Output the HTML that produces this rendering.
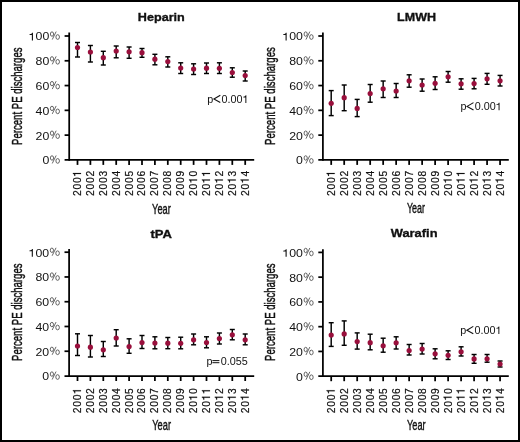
<!DOCTYPE html>
<html><head><meta charset="utf-8"><style>
html,body{margin:0;padding:0;background:#fff;}
#f{position:relative;width:520px;height:442px;box-sizing:border-box;border:2px solid #000;background:#fff;overflow:hidden;}
svg{position:absolute;left:-2px;top:-2px;will-change:transform;}
text{font-family:"Liberation Sans", sans-serif;fill:#111;}
</style></head><body><div id="f">
<svg width="520" height="442" viewBox="0 0 520 442">
<defs><path id="pct" fill="none" stroke="#333" d="M352 -593A130 203 0 1 1 92 -593A130 203 0 1 1 352 -593ZM830 -319A145 216 0 1 1 540 -319A145 216 0 1 1 830 -319ZM560 -822L245 -86"/><path id="one" fill="#111" d="M345 0L345 -709L275 -709C263 -630 215 -580 65 -572L65 -508L255 -508L255 0Z"/></defs>
<line x1="69.2" y1="32.5" x2="69.2" y2="160.78" stroke="#000" stroke-width="1.75"/>
<line x1="64.60" y1="159.9" x2="254.2" y2="159.9" stroke="#000" stroke-width="1.75"/>
<g transform="translate(42.41,164.37) scale(1.14,1)"><text x="0.00" y="0" font-size="10.8">0</text><use href="#pct" stroke-width="64.8" transform="translate(6.00,0) scale(0.01080)"/></g>
<line x1="64.60" y1="135.12" x2="69.2" y2="135.12" stroke="#000" stroke-width="1.75"/>
<g transform="translate(35.56,139.59) scale(1.14,1)"><text x="0.00 6.00" y="0" font-size="10.8">20</text><use href="#pct" stroke-width="64.8" transform="translate(12.01,0) scale(0.01080)"/></g>
<line x1="64.60" y1="110.34" x2="69.2" y2="110.34" stroke="#000" stroke-width="1.75"/>
<g transform="translate(35.56,114.81) scale(1.14,1)"><text x="0.00 6.00" y="0" font-size="10.8">40</text><use href="#pct" stroke-width="64.8" transform="translate(12.01,0) scale(0.01080)"/></g>
<line x1="64.60" y1="85.56" x2="69.2" y2="85.56" stroke="#000" stroke-width="1.75"/>
<g transform="translate(35.56,90.03) scale(1.14,1)"><text x="0.00 6.00" y="0" font-size="10.8">60</text><use href="#pct" stroke-width="64.8" transform="translate(12.01,0) scale(0.01080)"/></g>
<line x1="64.60" y1="60.78" x2="69.2" y2="60.78" stroke="#000" stroke-width="1.75"/>
<g transform="translate(35.56,65.25) scale(1.14,1)"><text x="0.00 6.00" y="0" font-size="10.8">80</text><use href="#pct" stroke-width="64.8" transform="translate(12.01,0) scale(0.01080)"/></g>
<line x1="64.60" y1="36.00" x2="69.2" y2="36.00" stroke="#000" stroke-width="1.75"/>
<g transform="translate(28.72,40.47) scale(1.14,1)"><text x="6.00 12.01" y="0" font-size="10.8">00</text><use href="#one" transform="translate(0.00,0) scale(0.01080)"/><use href="#pct" stroke-width="64.8" transform="translate(18.01,0) scale(0.01080)"/></g>
<line x1="77.50" y1="159.9" x2="77.50" y2="164.90" stroke="#000" stroke-width="1.75"/>
<g transform="translate(80.98,196.00) rotate(-90) scale(0.9,1)"><text x="0.00 7.19 14.38" y="0" font-size="11.4" stroke="#111" stroke-width="0.2">200</text><use href="#one" stroke="#111" stroke-width="17.5" transform="translate(21.57,0) scale(0.01140)"/></g>
<line x1="90.40" y1="159.9" x2="90.40" y2="164.90" stroke="#000" stroke-width="1.75"/>
<g transform="translate(93.88,196.00) rotate(-90) scale(0.9,1)"><text x="0.00 7.19 14.38 21.57" y="0" font-size="11.4" stroke="#111" stroke-width="0.2">2002</text></g>
<line x1="103.30" y1="159.9" x2="103.30" y2="164.90" stroke="#000" stroke-width="1.75"/>
<g transform="translate(106.78,196.00) rotate(-90) scale(0.9,1)"><text x="0.00 7.19 14.38 21.57" y="0" font-size="11.4" stroke="#111" stroke-width="0.2">2003</text></g>
<line x1="116.20" y1="159.9" x2="116.20" y2="164.90" stroke="#000" stroke-width="1.75"/>
<g transform="translate(119.68,196.00) rotate(-90) scale(0.9,1)"><text x="0.00 7.19 14.38 21.57" y="0" font-size="11.4" stroke="#111" stroke-width="0.2">2004</text></g>
<line x1="129.10" y1="159.9" x2="129.10" y2="164.90" stroke="#000" stroke-width="1.75"/>
<g transform="translate(132.58,196.00) rotate(-90) scale(0.9,1)"><text x="0.00 7.19 14.38 21.57" y="0" font-size="11.4" stroke="#111" stroke-width="0.2">2005</text></g>
<line x1="142.00" y1="159.9" x2="142.00" y2="164.90" stroke="#000" stroke-width="1.75"/>
<g transform="translate(145.48,196.00) rotate(-90) scale(0.9,1)"><text x="0.00 7.19 14.38 21.57" y="0" font-size="11.4" stroke="#111" stroke-width="0.2">2006</text></g>
<line x1="154.90" y1="159.9" x2="154.90" y2="164.90" stroke="#000" stroke-width="1.75"/>
<g transform="translate(158.38,196.00) rotate(-90) scale(0.9,1)"><text x="0.00 7.19 14.38 21.57" y="0" font-size="11.4" stroke="#111" stroke-width="0.2">2007</text></g>
<line x1="167.80" y1="159.9" x2="167.80" y2="164.90" stroke="#000" stroke-width="1.75"/>
<g transform="translate(171.28,196.00) rotate(-90) scale(0.9,1)"><text x="0.00 7.19 14.38 21.57" y="0" font-size="11.4" stroke="#111" stroke-width="0.2">2008</text></g>
<line x1="180.70" y1="159.9" x2="180.70" y2="164.90" stroke="#000" stroke-width="1.75"/>
<g transform="translate(184.18,196.00) rotate(-90) scale(0.9,1)"><text x="0.00 7.19 14.38 21.57" y="0" font-size="11.4" stroke="#111" stroke-width="0.2">2009</text></g>
<line x1="193.60" y1="159.9" x2="193.60" y2="164.90" stroke="#000" stroke-width="1.75"/>
<g transform="translate(197.08,196.00) rotate(-90) scale(0.9,1)"><text x="0.00 7.19 21.57" y="0" font-size="11.4" stroke="#111" stroke-width="0.2">200</text><use href="#one" stroke="#111" stroke-width="17.5" transform="translate(14.38,0) scale(0.01140)"/></g>
<line x1="206.50" y1="159.9" x2="206.50" y2="164.90" stroke="#000" stroke-width="1.75"/>
<g transform="translate(209.98,196.00) rotate(-90) scale(0.9,1)"><text x="0.00 7.19" y="0" font-size="11.4" stroke="#111" stroke-width="0.2">20</text><use href="#one" stroke="#111" stroke-width="17.5" transform="translate(14.38,0) scale(0.01140)"/><use href="#one" stroke="#111" stroke-width="17.5" transform="translate(21.57,0) scale(0.01140)"/></g>
<line x1="219.40" y1="159.9" x2="219.40" y2="164.90" stroke="#000" stroke-width="1.75"/>
<g transform="translate(222.88,196.00) rotate(-90) scale(0.9,1)"><text x="0.00 7.19 21.57" y="0" font-size="11.4" stroke="#111" stroke-width="0.2">202</text><use href="#one" stroke="#111" stroke-width="17.5" transform="translate(14.38,0) scale(0.01140)"/></g>
<line x1="232.30" y1="159.9" x2="232.30" y2="164.90" stroke="#000" stroke-width="1.75"/>
<g transform="translate(235.78,196.00) rotate(-90) scale(0.9,1)"><text x="0.00 7.19 21.57" y="0" font-size="11.4" stroke="#111" stroke-width="0.2">203</text><use href="#one" stroke="#111" stroke-width="17.5" transform="translate(14.38,0) scale(0.01140)"/></g>
<line x1="245.20" y1="159.9" x2="245.20" y2="164.90" stroke="#000" stroke-width="1.75"/>
<g transform="translate(248.68,196.00) rotate(-90) scale(0.9,1)"><text x="0.00 7.19 21.57" y="0" font-size="11.4" stroke="#111" stroke-width="0.2">204</text><use href="#one" stroke="#111" stroke-width="17.5" transform="translate(14.38,0) scale(0.01140)"/></g>
<line x1="77.50" y1="42.5" x2="77.50" y2="57" stroke="#000" stroke-width="1.45"/>
<line x1="75.00" y1="42.5" x2="80.00" y2="42.5" stroke="#000" stroke-width="1.45"/>
<line x1="75.00" y1="57" x2="80.00" y2="57" stroke="#000" stroke-width="1.45"/>
<circle cx="77.50" cy="47.5" r="2.6" fill="#990f3c"/>
<line x1="90.40" y1="45.5" x2="90.40" y2="62" stroke="#000" stroke-width="1.45"/>
<line x1="87.90" y1="45.5" x2="92.90" y2="45.5" stroke="#000" stroke-width="1.45"/>
<line x1="87.90" y1="62" x2="92.90" y2="62" stroke="#000" stroke-width="1.45"/>
<circle cx="90.40" cy="52" r="2.6" fill="#990f3c"/>
<line x1="103.30" y1="51.3" x2="103.30" y2="65" stroke="#000" stroke-width="1.45"/>
<line x1="100.80" y1="51.3" x2="105.80" y2="51.3" stroke="#000" stroke-width="1.45"/>
<line x1="100.80" y1="65" x2="105.80" y2="65" stroke="#000" stroke-width="1.45"/>
<circle cx="103.30" cy="57.7" r="2.6" fill="#990f3c"/>
<line x1="116.20" y1="46" x2="116.20" y2="57.8" stroke="#000" stroke-width="1.45"/>
<line x1="113.70" y1="46" x2="118.70" y2="46" stroke="#000" stroke-width="1.45"/>
<line x1="113.70" y1="57.8" x2="118.70" y2="57.8" stroke="#000" stroke-width="1.45"/>
<circle cx="116.20" cy="51" r="2.6" fill="#990f3c"/>
<line x1="129.10" y1="47" x2="129.10" y2="58.3" stroke="#000" stroke-width="1.45"/>
<line x1="126.60" y1="47" x2="131.60" y2="47" stroke="#000" stroke-width="1.45"/>
<line x1="126.60" y1="58.3" x2="131.60" y2="58.3" stroke="#000" stroke-width="1.45"/>
<circle cx="129.10" cy="51.8" r="2.6" fill="#990f3c"/>
<line x1="142.00" y1="48.5" x2="142.00" y2="57.3" stroke="#000" stroke-width="1.45"/>
<line x1="139.50" y1="48.5" x2="144.50" y2="48.5" stroke="#000" stroke-width="1.45"/>
<line x1="139.50" y1="57.3" x2="144.50" y2="57.3" stroke="#000" stroke-width="1.45"/>
<circle cx="142.00" cy="52.7" r="2.6" fill="#990f3c"/>
<line x1="154.90" y1="54.3" x2="154.90" y2="64.8" stroke="#000" stroke-width="1.45"/>
<line x1="152.40" y1="54.3" x2="157.40" y2="54.3" stroke="#000" stroke-width="1.45"/>
<line x1="152.40" y1="64.8" x2="157.40" y2="64.8" stroke="#000" stroke-width="1.45"/>
<circle cx="154.90" cy="59.2" r="2.6" fill="#990f3c"/>
<line x1="167.80" y1="56.8" x2="167.80" y2="67" stroke="#000" stroke-width="1.45"/>
<line x1="165.30" y1="56.8" x2="170.30" y2="56.8" stroke="#000" stroke-width="1.45"/>
<line x1="165.30" y1="67" x2="170.30" y2="67" stroke="#000" stroke-width="1.45"/>
<circle cx="167.80" cy="61.5" r="2.6" fill="#990f3c"/>
<line x1="180.70" y1="62.8" x2="180.70" y2="73.5" stroke="#000" stroke-width="1.45"/>
<line x1="178.20" y1="62.8" x2="183.20" y2="62.8" stroke="#000" stroke-width="1.45"/>
<line x1="178.20" y1="73.5" x2="183.20" y2="73.5" stroke="#000" stroke-width="1.45"/>
<circle cx="180.70" cy="68" r="2.6" fill="#990f3c"/>
<line x1="193.60" y1="63.8" x2="193.60" y2="74.5" stroke="#000" stroke-width="1.45"/>
<line x1="191.10" y1="63.8" x2="196.10" y2="63.8" stroke="#000" stroke-width="1.45"/>
<line x1="191.10" y1="74.5" x2="196.10" y2="74.5" stroke="#000" stroke-width="1.45"/>
<circle cx="193.60" cy="69" r="2.6" fill="#990f3c"/>
<line x1="206.50" y1="63" x2="206.50" y2="73.5" stroke="#000" stroke-width="1.45"/>
<line x1="204.00" y1="63" x2="209.00" y2="63" stroke="#000" stroke-width="1.45"/>
<line x1="204.00" y1="73.5" x2="209.00" y2="73.5" stroke="#000" stroke-width="1.45"/>
<circle cx="206.50" cy="68.2" r="2.6" fill="#990f3c"/>
<line x1="219.40" y1="62.8" x2="219.40" y2="73.5" stroke="#000" stroke-width="1.45"/>
<line x1="216.90" y1="62.8" x2="221.90" y2="62.8" stroke="#000" stroke-width="1.45"/>
<line x1="216.90" y1="73.5" x2="221.90" y2="73.5" stroke="#000" stroke-width="1.45"/>
<circle cx="219.40" cy="68.3" r="2.6" fill="#990f3c"/>
<line x1="232.30" y1="67.8" x2="232.30" y2="77.2" stroke="#000" stroke-width="1.45"/>
<line x1="229.80" y1="67.8" x2="234.80" y2="67.8" stroke="#000" stroke-width="1.45"/>
<line x1="229.80" y1="77.2" x2="234.80" y2="77.2" stroke="#000" stroke-width="1.45"/>
<circle cx="232.30" cy="72.5" r="2.6" fill="#990f3c"/>
<line x1="245.20" y1="71" x2="245.20" y2="81" stroke="#000" stroke-width="1.45"/>
<line x1="242.70" y1="71" x2="247.70" y2="71" stroke="#000" stroke-width="1.45"/>
<line x1="242.70" y1="81" x2="247.70" y2="81" stroke="#000" stroke-width="1.45"/>
<circle cx="245.20" cy="75.5" r="2.6" fill="#990f3c"/>
<text x="137.8" y="20.9" font-size="11.8" font-weight="bold" stroke="#111" stroke-width="0.35" textLength="47.00" lengthAdjust="spacingAndGlyphs">Heparin</text>
<text x="207.30" y="102.9" font-size="10.8">p</text>
<path d="M220.30 95.20 L213.90 99.00 L220.30 102.50" fill="none" stroke="#111" stroke-width="1.1"/>
<g transform="translate(221.60,102.9)"><text x="0.00 6.00 9.01 15.01" y="0" font-size="10.8">0.00</text><use href="#one" transform="translate(21.02,0) scale(0.01080)"/></g>
<text transform="translate(21.6,144.9) rotate(-90)" font-size="14" stroke="#111" stroke-width="0.45" textLength="97.40" lengthAdjust="spacingAndGlyphs">Percent PE discharges</text>
<text x="152.1" y="213.6" font-size="14.2" stroke="#111" stroke-width="0.4" textLength="18.70" lengthAdjust="spacingAndGlyphs">Year</text>
<line x1="322.9" y1="32.5" x2="322.9" y2="160.78" stroke="#000" stroke-width="1.75"/>
<line x1="318.30" y1="159.9" x2="508.8" y2="159.9" stroke="#000" stroke-width="1.75"/>
<g transform="translate(296.11,164.37) scale(1.14,1)"><text x="0.00" y="0" font-size="10.8">0</text><use href="#pct" stroke-width="64.8" transform="translate(6.00,0) scale(0.01080)"/></g>
<line x1="318.30" y1="135.12" x2="322.9" y2="135.12" stroke="#000" stroke-width="1.75"/>
<g transform="translate(289.26,139.59) scale(1.14,1)"><text x="0.00 6.00" y="0" font-size="10.8">20</text><use href="#pct" stroke-width="64.8" transform="translate(12.01,0) scale(0.01080)"/></g>
<line x1="318.30" y1="110.34" x2="322.9" y2="110.34" stroke="#000" stroke-width="1.75"/>
<g transform="translate(289.26,114.81) scale(1.14,1)"><text x="0.00 6.00" y="0" font-size="10.8">40</text><use href="#pct" stroke-width="64.8" transform="translate(12.01,0) scale(0.01080)"/></g>
<line x1="318.30" y1="85.56" x2="322.9" y2="85.56" stroke="#000" stroke-width="1.75"/>
<g transform="translate(289.26,90.03) scale(1.14,1)"><text x="0.00 6.00" y="0" font-size="10.8">60</text><use href="#pct" stroke-width="64.8" transform="translate(12.01,0) scale(0.01080)"/></g>
<line x1="318.30" y1="60.78" x2="322.9" y2="60.78" stroke="#000" stroke-width="1.75"/>
<g transform="translate(289.26,65.25) scale(1.14,1)"><text x="0.00 6.00" y="0" font-size="10.8">80</text><use href="#pct" stroke-width="64.8" transform="translate(12.01,0) scale(0.01080)"/></g>
<line x1="318.30" y1="36.00" x2="322.9" y2="36.00" stroke="#000" stroke-width="1.75"/>
<g transform="translate(282.42,40.47) scale(1.14,1)"><text x="6.00 12.01" y="0" font-size="10.8">00</text><use href="#one" transform="translate(0.00,0) scale(0.01080)"/><use href="#pct" stroke-width="64.8" transform="translate(18.01,0) scale(0.01080)"/></g>
<line x1="331.20" y1="159.9" x2="331.20" y2="164.90" stroke="#000" stroke-width="1.75"/>
<g transform="translate(334.68,196.00) rotate(-90) scale(0.9,1)"><text x="0.00 7.19 14.38" y="0" font-size="11.4" stroke="#111" stroke-width="0.2">200</text><use href="#one" stroke="#111" stroke-width="17.5" transform="translate(21.57,0) scale(0.01140)"/></g>
<line x1="344.19" y1="159.9" x2="344.19" y2="164.90" stroke="#000" stroke-width="1.75"/>
<g transform="translate(347.67,196.00) rotate(-90) scale(0.9,1)"><text x="0.00 7.19 14.38 21.57" y="0" font-size="11.4" stroke="#111" stroke-width="0.2">2002</text></g>
<line x1="357.18" y1="159.9" x2="357.18" y2="164.90" stroke="#000" stroke-width="1.75"/>
<g transform="translate(360.66,196.00) rotate(-90) scale(0.9,1)"><text x="0.00 7.19 14.38 21.57" y="0" font-size="11.4" stroke="#111" stroke-width="0.2">2003</text></g>
<line x1="370.17" y1="159.9" x2="370.17" y2="164.90" stroke="#000" stroke-width="1.75"/>
<g transform="translate(373.65,196.00) rotate(-90) scale(0.9,1)"><text x="0.00 7.19 14.38 21.57" y="0" font-size="11.4" stroke="#111" stroke-width="0.2">2004</text></g>
<line x1="383.16" y1="159.9" x2="383.16" y2="164.90" stroke="#000" stroke-width="1.75"/>
<g transform="translate(386.64,196.00) rotate(-90) scale(0.9,1)"><text x="0.00 7.19 14.38 21.57" y="0" font-size="11.4" stroke="#111" stroke-width="0.2">2005</text></g>
<line x1="396.15" y1="159.9" x2="396.15" y2="164.90" stroke="#000" stroke-width="1.75"/>
<g transform="translate(399.63,196.00) rotate(-90) scale(0.9,1)"><text x="0.00 7.19 14.38 21.57" y="0" font-size="11.4" stroke="#111" stroke-width="0.2">2006</text></g>
<line x1="409.14" y1="159.9" x2="409.14" y2="164.90" stroke="#000" stroke-width="1.75"/>
<g transform="translate(412.62,196.00) rotate(-90) scale(0.9,1)"><text x="0.00 7.19 14.38 21.57" y="0" font-size="11.4" stroke="#111" stroke-width="0.2">2007</text></g>
<line x1="422.13" y1="159.9" x2="422.13" y2="164.90" stroke="#000" stroke-width="1.75"/>
<g transform="translate(425.61,196.00) rotate(-90) scale(0.9,1)"><text x="0.00 7.19 14.38 21.57" y="0" font-size="11.4" stroke="#111" stroke-width="0.2">2008</text></g>
<line x1="435.12" y1="159.9" x2="435.12" y2="164.90" stroke="#000" stroke-width="1.75"/>
<g transform="translate(438.60,196.00) rotate(-90) scale(0.9,1)"><text x="0.00 7.19 14.38 21.57" y="0" font-size="11.4" stroke="#111" stroke-width="0.2">2009</text></g>
<line x1="448.11" y1="159.9" x2="448.11" y2="164.90" stroke="#000" stroke-width="1.75"/>
<g transform="translate(451.59,196.00) rotate(-90) scale(0.9,1)"><text x="0.00 7.19 21.57" y="0" font-size="11.4" stroke="#111" stroke-width="0.2">200</text><use href="#one" stroke="#111" stroke-width="17.5" transform="translate(14.38,0) scale(0.01140)"/></g>
<line x1="461.10" y1="159.9" x2="461.10" y2="164.90" stroke="#000" stroke-width="1.75"/>
<g transform="translate(464.58,196.00) rotate(-90) scale(0.9,1)"><text x="0.00 7.19" y="0" font-size="11.4" stroke="#111" stroke-width="0.2">20</text><use href="#one" stroke="#111" stroke-width="17.5" transform="translate(14.38,0) scale(0.01140)"/><use href="#one" stroke="#111" stroke-width="17.5" transform="translate(21.57,0) scale(0.01140)"/></g>
<line x1="474.09" y1="159.9" x2="474.09" y2="164.90" stroke="#000" stroke-width="1.75"/>
<g transform="translate(477.57,196.00) rotate(-90) scale(0.9,1)"><text x="0.00 7.19 21.57" y="0" font-size="11.4" stroke="#111" stroke-width="0.2">202</text><use href="#one" stroke="#111" stroke-width="17.5" transform="translate(14.38,0) scale(0.01140)"/></g>
<line x1="487.08" y1="159.9" x2="487.08" y2="164.90" stroke="#000" stroke-width="1.75"/>
<g transform="translate(490.56,196.00) rotate(-90) scale(0.9,1)"><text x="0.00 7.19 21.57" y="0" font-size="11.4" stroke="#111" stroke-width="0.2">203</text><use href="#one" stroke="#111" stroke-width="17.5" transform="translate(14.38,0) scale(0.01140)"/></g>
<line x1="500.07" y1="159.9" x2="500.07" y2="164.90" stroke="#000" stroke-width="1.75"/>
<g transform="translate(503.55,196.00) rotate(-90) scale(0.9,1)"><text x="0.00 7.19 21.57" y="0" font-size="11.4" stroke="#111" stroke-width="0.2">204</text><use href="#one" stroke="#111" stroke-width="17.5" transform="translate(14.38,0) scale(0.01140)"/></g>
<line x1="331.20" y1="90.6" x2="331.20" y2="115.6" stroke="#000" stroke-width="1.45"/>
<line x1="328.70" y1="90.6" x2="333.70" y2="90.6" stroke="#000" stroke-width="1.45"/>
<line x1="328.70" y1="115.6" x2="333.70" y2="115.6" stroke="#000" stroke-width="1.45"/>
<circle cx="331.20" cy="103.3" r="2.6" fill="#990f3c"/>
<line x1="344.19" y1="85" x2="344.19" y2="110.7" stroke="#000" stroke-width="1.45"/>
<line x1="341.69" y1="85" x2="346.69" y2="85" stroke="#000" stroke-width="1.45"/>
<line x1="341.69" y1="110.7" x2="346.69" y2="110.7" stroke="#000" stroke-width="1.45"/>
<circle cx="344.19" cy="97.7" r="2.6" fill="#990f3c"/>
<line x1="357.18" y1="99.4" x2="357.18" y2="116.6" stroke="#000" stroke-width="1.45"/>
<line x1="354.68" y1="99.4" x2="359.68" y2="99.4" stroke="#000" stroke-width="1.45"/>
<line x1="354.68" y1="116.6" x2="359.68" y2="116.6" stroke="#000" stroke-width="1.45"/>
<circle cx="357.18" cy="108.4" r="2.6" fill="#990f3c"/>
<line x1="370.17" y1="84.5" x2="370.17" y2="102.2" stroke="#000" stroke-width="1.45"/>
<line x1="367.67" y1="84.5" x2="372.67" y2="84.5" stroke="#000" stroke-width="1.45"/>
<line x1="367.67" y1="102.2" x2="372.67" y2="102.2" stroke="#000" stroke-width="1.45"/>
<circle cx="370.17" cy="93.5" r="2.6" fill="#990f3c"/>
<line x1="383.16" y1="81" x2="383.16" y2="97.5" stroke="#000" stroke-width="1.45"/>
<line x1="380.66" y1="81" x2="385.66" y2="81" stroke="#000" stroke-width="1.45"/>
<line x1="380.66" y1="97.5" x2="385.66" y2="97.5" stroke="#000" stroke-width="1.45"/>
<circle cx="383.16" cy="88.8" r="2.6" fill="#990f3c"/>
<line x1="396.15" y1="83.5" x2="396.15" y2="97.5" stroke="#000" stroke-width="1.45"/>
<line x1="393.65" y1="83.5" x2="398.65" y2="83.5" stroke="#000" stroke-width="1.45"/>
<line x1="393.65" y1="97.5" x2="398.65" y2="97.5" stroke="#000" stroke-width="1.45"/>
<circle cx="396.15" cy="91" r="2.6" fill="#990f3c"/>
<line x1="409.14" y1="74.8" x2="409.14" y2="87.2" stroke="#000" stroke-width="1.45"/>
<line x1="406.64" y1="74.8" x2="411.64" y2="74.8" stroke="#000" stroke-width="1.45"/>
<line x1="406.64" y1="87.2" x2="411.64" y2="87.2" stroke="#000" stroke-width="1.45"/>
<circle cx="409.14" cy="80.8" r="2.6" fill="#990f3c"/>
<line x1="422.13" y1="79" x2="422.13" y2="91.2" stroke="#000" stroke-width="1.45"/>
<line x1="419.63" y1="79" x2="424.63" y2="79" stroke="#000" stroke-width="1.45"/>
<line x1="419.63" y1="91.2" x2="424.63" y2="91.2" stroke="#000" stroke-width="1.45"/>
<circle cx="422.13" cy="85" r="2.6" fill="#990f3c"/>
<line x1="435.12" y1="76.8" x2="435.12" y2="89.5" stroke="#000" stroke-width="1.45"/>
<line x1="432.62" y1="76.8" x2="437.62" y2="76.8" stroke="#000" stroke-width="1.45"/>
<line x1="432.62" y1="89.5" x2="437.62" y2="89.5" stroke="#000" stroke-width="1.45"/>
<circle cx="435.12" cy="83.3" r="2.6" fill="#990f3c"/>
<line x1="448.11" y1="71.5" x2="448.11" y2="82.2" stroke="#000" stroke-width="1.45"/>
<line x1="445.61" y1="71.5" x2="450.61" y2="71.5" stroke="#000" stroke-width="1.45"/>
<line x1="445.61" y1="82.2" x2="450.61" y2="82.2" stroke="#000" stroke-width="1.45"/>
<circle cx="448.11" cy="76.8" r="2.6" fill="#990f3c"/>
<line x1="461.10" y1="78.8" x2="461.10" y2="89.2" stroke="#000" stroke-width="1.45"/>
<line x1="458.60" y1="78.8" x2="463.60" y2="78.8" stroke="#000" stroke-width="1.45"/>
<line x1="458.60" y1="89.2" x2="463.60" y2="89.2" stroke="#000" stroke-width="1.45"/>
<circle cx="461.10" cy="83.8" r="2.6" fill="#990f3c"/>
<line x1="474.09" y1="78.4" x2="474.09" y2="88.8" stroke="#000" stroke-width="1.45"/>
<line x1="471.59" y1="78.4" x2="476.59" y2="78.4" stroke="#000" stroke-width="1.45"/>
<line x1="471.59" y1="88.8" x2="476.59" y2="88.8" stroke="#000" stroke-width="1.45"/>
<circle cx="474.09" cy="83.6" r="2.6" fill="#990f3c"/>
<line x1="487.08" y1="73.4" x2="487.08" y2="84.3" stroke="#000" stroke-width="1.45"/>
<line x1="484.58" y1="73.4" x2="489.58" y2="73.4" stroke="#000" stroke-width="1.45"/>
<line x1="484.58" y1="84.3" x2="489.58" y2="84.3" stroke="#000" stroke-width="1.45"/>
<circle cx="487.08" cy="78.8" r="2.6" fill="#990f3c"/>
<line x1="500.07" y1="75.4" x2="500.07" y2="86" stroke="#000" stroke-width="1.45"/>
<line x1="497.57" y1="75.4" x2="502.57" y2="75.4" stroke="#000" stroke-width="1.45"/>
<line x1="497.57" y1="86" x2="502.57" y2="86" stroke="#000" stroke-width="1.45"/>
<circle cx="500.07" cy="80.8" r="2.6" fill="#990f3c"/>
<text x="397.1" y="20.5" font-size="11.8" font-weight="bold" stroke="#111" stroke-width="0.35" textLength="38.90" lengthAdjust="spacingAndGlyphs">LMWH</text>
<text x="460.50" y="110.3" font-size="10.8">p</text>
<path d="M473.50 102.60 L467.10 106.40 L473.50 109.90" fill="none" stroke="#111" stroke-width="1.1"/>
<g transform="translate(474.80,110.3)"><text x="0.00 6.00 9.01 15.01" y="0" font-size="10.8">0.00</text><use href="#one" transform="translate(21.02,0) scale(0.01080)"/></g>
<text transform="translate(274.9,144.9) rotate(-90)" font-size="14" stroke="#111" stroke-width="0.45" textLength="97.70" lengthAdjust="spacingAndGlyphs">Percent PE discharges</text>
<text x="407.0" y="213.3" font-size="14.2" stroke="#111" stroke-width="0.4" textLength="18.00" lengthAdjust="spacingAndGlyphs">Year</text>
<line x1="69.1" y1="249.1" x2="69.1" y2="376.88" stroke="#000" stroke-width="1.75"/>
<line x1="64.50" y1="376.0" x2="254.2" y2="376.0" stroke="#000" stroke-width="1.75"/>
<g transform="translate(42.31,380.47) scale(1.14,1)"><text x="0.00" y="0" font-size="10.8">0</text><use href="#pct" stroke-width="64.8" transform="translate(6.00,0) scale(0.01080)"/></g>
<line x1="64.50" y1="351.24" x2="69.1" y2="351.24" stroke="#000" stroke-width="1.75"/>
<g transform="translate(35.46,355.71) scale(1.14,1)"><text x="0.00 6.00" y="0" font-size="10.8">20</text><use href="#pct" stroke-width="64.8" transform="translate(12.01,0) scale(0.01080)"/></g>
<line x1="64.50" y1="326.48" x2="69.1" y2="326.48" stroke="#000" stroke-width="1.75"/>
<g transform="translate(35.46,330.95) scale(1.14,1)"><text x="0.00 6.00" y="0" font-size="10.8">40</text><use href="#pct" stroke-width="64.8" transform="translate(12.01,0) scale(0.01080)"/></g>
<line x1="64.50" y1="301.72" x2="69.1" y2="301.72" stroke="#000" stroke-width="1.75"/>
<g transform="translate(35.46,306.19) scale(1.14,1)"><text x="0.00 6.00" y="0" font-size="10.8">60</text><use href="#pct" stroke-width="64.8" transform="translate(12.01,0) scale(0.01080)"/></g>
<line x1="64.50" y1="276.96" x2="69.1" y2="276.96" stroke="#000" stroke-width="1.75"/>
<g transform="translate(35.46,281.43) scale(1.14,1)"><text x="0.00 6.00" y="0" font-size="10.8">80</text><use href="#pct" stroke-width="64.8" transform="translate(12.01,0) scale(0.01080)"/></g>
<line x1="64.50" y1="252.20" x2="69.1" y2="252.20" stroke="#000" stroke-width="1.75"/>
<g transform="translate(28.62,256.67) scale(1.14,1)"><text x="6.00 12.01" y="0" font-size="10.8">00</text><use href="#one" transform="translate(0.00,0) scale(0.01080)"/><use href="#pct" stroke-width="64.8" transform="translate(18.01,0) scale(0.01080)"/></g>
<line x1="77.50" y1="376.0" x2="77.50" y2="381.00" stroke="#000" stroke-width="1.75"/>
<g transform="translate(80.98,413.30) rotate(-90) scale(0.9,1)"><text x="0.00 7.19 14.38" y="0" font-size="11.4" stroke="#111" stroke-width="0.2">200</text><use href="#one" stroke="#111" stroke-width="17.5" transform="translate(21.57,0) scale(0.01140)"/></g>
<line x1="90.40" y1="376.0" x2="90.40" y2="381.00" stroke="#000" stroke-width="1.75"/>
<g transform="translate(93.88,413.30) rotate(-90) scale(0.9,1)"><text x="0.00 7.19 14.38 21.57" y="0" font-size="11.4" stroke="#111" stroke-width="0.2">2002</text></g>
<line x1="103.30" y1="376.0" x2="103.30" y2="381.00" stroke="#000" stroke-width="1.75"/>
<g transform="translate(106.78,413.30) rotate(-90) scale(0.9,1)"><text x="0.00 7.19 14.38 21.57" y="0" font-size="11.4" stroke="#111" stroke-width="0.2">2003</text></g>
<line x1="116.20" y1="376.0" x2="116.20" y2="381.00" stroke="#000" stroke-width="1.75"/>
<g transform="translate(119.68,413.30) rotate(-90) scale(0.9,1)"><text x="0.00 7.19 14.38 21.57" y="0" font-size="11.4" stroke="#111" stroke-width="0.2">2004</text></g>
<line x1="129.10" y1="376.0" x2="129.10" y2="381.00" stroke="#000" stroke-width="1.75"/>
<g transform="translate(132.58,413.30) rotate(-90) scale(0.9,1)"><text x="0.00 7.19 14.38 21.57" y="0" font-size="11.4" stroke="#111" stroke-width="0.2">2005</text></g>
<line x1="142.00" y1="376.0" x2="142.00" y2="381.00" stroke="#000" stroke-width="1.75"/>
<g transform="translate(145.48,413.30) rotate(-90) scale(0.9,1)"><text x="0.00 7.19 14.38 21.57" y="0" font-size="11.4" stroke="#111" stroke-width="0.2">2006</text></g>
<line x1="154.90" y1="376.0" x2="154.90" y2="381.00" stroke="#000" stroke-width="1.75"/>
<g transform="translate(158.38,413.30) rotate(-90) scale(0.9,1)"><text x="0.00 7.19 14.38 21.57" y="0" font-size="11.4" stroke="#111" stroke-width="0.2">2007</text></g>
<line x1="167.80" y1="376.0" x2="167.80" y2="381.00" stroke="#000" stroke-width="1.75"/>
<g transform="translate(171.28,413.30) rotate(-90) scale(0.9,1)"><text x="0.00 7.19 14.38 21.57" y="0" font-size="11.4" stroke="#111" stroke-width="0.2">2008</text></g>
<line x1="180.70" y1="376.0" x2="180.70" y2="381.00" stroke="#000" stroke-width="1.75"/>
<g transform="translate(184.18,413.30) rotate(-90) scale(0.9,1)"><text x="0.00 7.19 14.38 21.57" y="0" font-size="11.4" stroke="#111" stroke-width="0.2">2009</text></g>
<line x1="193.60" y1="376.0" x2="193.60" y2="381.00" stroke="#000" stroke-width="1.75"/>
<g transform="translate(197.08,413.30) rotate(-90) scale(0.9,1)"><text x="0.00 7.19 21.57" y="0" font-size="11.4" stroke="#111" stroke-width="0.2">200</text><use href="#one" stroke="#111" stroke-width="17.5" transform="translate(14.38,0) scale(0.01140)"/></g>
<line x1="206.50" y1="376.0" x2="206.50" y2="381.00" stroke="#000" stroke-width="1.75"/>
<g transform="translate(209.98,413.30) rotate(-90) scale(0.9,1)"><text x="0.00 7.19" y="0" font-size="11.4" stroke="#111" stroke-width="0.2">20</text><use href="#one" stroke="#111" stroke-width="17.5" transform="translate(14.38,0) scale(0.01140)"/><use href="#one" stroke="#111" stroke-width="17.5" transform="translate(21.57,0) scale(0.01140)"/></g>
<line x1="219.40" y1="376.0" x2="219.40" y2="381.00" stroke="#000" stroke-width="1.75"/>
<g transform="translate(222.88,413.30) rotate(-90) scale(0.9,1)"><text x="0.00 7.19 21.57" y="0" font-size="11.4" stroke="#111" stroke-width="0.2">202</text><use href="#one" stroke="#111" stroke-width="17.5" transform="translate(14.38,0) scale(0.01140)"/></g>
<line x1="232.30" y1="376.0" x2="232.30" y2="381.00" stroke="#000" stroke-width="1.75"/>
<g transform="translate(235.78,413.30) rotate(-90) scale(0.9,1)"><text x="0.00 7.19 21.57" y="0" font-size="11.4" stroke="#111" stroke-width="0.2">203</text><use href="#one" stroke="#111" stroke-width="17.5" transform="translate(14.38,0) scale(0.01140)"/></g>
<line x1="245.20" y1="376.0" x2="245.20" y2="381.00" stroke="#000" stroke-width="1.75"/>
<g transform="translate(248.68,413.30) rotate(-90) scale(0.9,1)"><text x="0.00 7.19 21.57" y="0" font-size="11.4" stroke="#111" stroke-width="0.2">204</text><use href="#one" stroke="#111" stroke-width="17.5" transform="translate(14.38,0) scale(0.01140)"/></g>
<line x1="77.50" y1="333.8" x2="77.50" y2="355.5" stroke="#000" stroke-width="1.45"/>
<line x1="75.00" y1="333.8" x2="80.00" y2="333.8" stroke="#000" stroke-width="1.45"/>
<line x1="75.00" y1="355.5" x2="80.00" y2="355.5" stroke="#000" stroke-width="1.45"/>
<circle cx="77.50" cy="346" r="2.6" fill="#990f3c"/>
<line x1="90.40" y1="335.5" x2="90.40" y2="357" stroke="#000" stroke-width="1.45"/>
<line x1="87.90" y1="335.5" x2="92.90" y2="335.5" stroke="#000" stroke-width="1.45"/>
<line x1="87.90" y1="357" x2="92.90" y2="357" stroke="#000" stroke-width="1.45"/>
<circle cx="90.40" cy="347.2" r="2.6" fill="#990f3c"/>
<line x1="103.30" y1="341.5" x2="103.30" y2="356.5" stroke="#000" stroke-width="1.45"/>
<line x1="100.80" y1="341.5" x2="105.80" y2="341.5" stroke="#000" stroke-width="1.45"/>
<line x1="100.80" y1="356.5" x2="105.80" y2="356.5" stroke="#000" stroke-width="1.45"/>
<circle cx="103.30" cy="349.8" r="2.6" fill="#990f3c"/>
<line x1="116.20" y1="329.7" x2="116.20" y2="346" stroke="#000" stroke-width="1.45"/>
<line x1="113.70" y1="329.7" x2="118.70" y2="329.7" stroke="#000" stroke-width="1.45"/>
<line x1="113.70" y1="346" x2="118.70" y2="346" stroke="#000" stroke-width="1.45"/>
<circle cx="116.20" cy="338" r="2.6" fill="#990f3c"/>
<line x1="129.10" y1="338.8" x2="129.10" y2="353.3" stroke="#000" stroke-width="1.45"/>
<line x1="126.60" y1="338.8" x2="131.60" y2="338.8" stroke="#000" stroke-width="1.45"/>
<line x1="126.60" y1="353.3" x2="131.60" y2="353.3" stroke="#000" stroke-width="1.45"/>
<circle cx="129.10" cy="346.5" r="2.6" fill="#990f3c"/>
<line x1="142.00" y1="335.5" x2="142.00" y2="348.5" stroke="#000" stroke-width="1.45"/>
<line x1="139.50" y1="335.5" x2="144.50" y2="335.5" stroke="#000" stroke-width="1.45"/>
<line x1="139.50" y1="348.5" x2="144.50" y2="348.5" stroke="#000" stroke-width="1.45"/>
<circle cx="142.00" cy="342.5" r="2.6" fill="#990f3c"/>
<line x1="154.90" y1="336.8" x2="154.90" y2="348.8" stroke="#000" stroke-width="1.45"/>
<line x1="152.40" y1="336.8" x2="157.40" y2="336.8" stroke="#000" stroke-width="1.45"/>
<line x1="152.40" y1="348.8" x2="157.40" y2="348.8" stroke="#000" stroke-width="1.45"/>
<circle cx="154.90" cy="343" r="2.6" fill="#990f3c"/>
<line x1="167.80" y1="337.5" x2="167.80" y2="348.7" stroke="#000" stroke-width="1.45"/>
<line x1="165.30" y1="337.5" x2="170.30" y2="337.5" stroke="#000" stroke-width="1.45"/>
<line x1="165.30" y1="348.7" x2="170.30" y2="348.7" stroke="#000" stroke-width="1.45"/>
<circle cx="167.80" cy="343.2" r="2.6" fill="#990f3c"/>
<line x1="180.70" y1="337.2" x2="180.70" y2="348.8" stroke="#000" stroke-width="1.45"/>
<line x1="178.20" y1="337.2" x2="183.20" y2="337.2" stroke="#000" stroke-width="1.45"/>
<line x1="178.20" y1="348.8" x2="183.20" y2="348.8" stroke="#000" stroke-width="1.45"/>
<circle cx="180.70" cy="343.3" r="2.6" fill="#990f3c"/>
<line x1="193.60" y1="334" x2="193.60" y2="344.8" stroke="#000" stroke-width="1.45"/>
<line x1="191.10" y1="334" x2="196.10" y2="334" stroke="#000" stroke-width="1.45"/>
<line x1="191.10" y1="344.8" x2="196.10" y2="344.8" stroke="#000" stroke-width="1.45"/>
<circle cx="193.60" cy="339.8" r="2.6" fill="#990f3c"/>
<line x1="206.50" y1="336.8" x2="206.50" y2="347.8" stroke="#000" stroke-width="1.45"/>
<line x1="204.00" y1="336.8" x2="209.00" y2="336.8" stroke="#000" stroke-width="1.45"/>
<line x1="204.00" y1="347.8" x2="209.00" y2="347.8" stroke="#000" stroke-width="1.45"/>
<circle cx="206.50" cy="342.5" r="2.6" fill="#990f3c"/>
<line x1="219.40" y1="333" x2="219.40" y2="344" stroke="#000" stroke-width="1.45"/>
<line x1="216.90" y1="333" x2="221.90" y2="333" stroke="#000" stroke-width="1.45"/>
<line x1="216.90" y1="344" x2="221.90" y2="344" stroke="#000" stroke-width="1.45"/>
<circle cx="219.40" cy="338.5" r="2.6" fill="#990f3c"/>
<line x1="232.30" y1="329.5" x2="232.30" y2="339.8" stroke="#000" stroke-width="1.45"/>
<line x1="229.80" y1="329.5" x2="234.80" y2="329.5" stroke="#000" stroke-width="1.45"/>
<line x1="229.80" y1="339.8" x2="234.80" y2="339.8" stroke="#000" stroke-width="1.45"/>
<circle cx="232.30" cy="334.8" r="2.6" fill="#990f3c"/>
<line x1="245.20" y1="334" x2="245.20" y2="344.8" stroke="#000" stroke-width="1.45"/>
<line x1="242.70" y1="334" x2="247.70" y2="334" stroke="#000" stroke-width="1.45"/>
<line x1="242.70" y1="344.8" x2="247.70" y2="344.8" stroke="#000" stroke-width="1.45"/>
<circle cx="245.20" cy="339.8" r="2.6" fill="#990f3c"/>
<text x="150.4" y="237.6" font-size="11.8" font-weight="bold" stroke="#111" stroke-width="0.35" textLength="21.50" lengthAdjust="spacingAndGlyphs">tPA</text>
<text x="206.40" y="364.7" font-size="10.8">p</text>
<path d="M212.40 360.60 H219.40 M212.40 362.70 H219.40" fill="none" stroke="#111" stroke-width="1.0"/>
<g transform="translate(220.70,364.7)"><text x="0.00 6.00 9.01 15.01 21.02" y="0" font-size="10.8">0.055</text></g>
<text transform="translate(21.6,360.9) rotate(-90)" font-size="14" stroke="#111" stroke-width="0.45" textLength="97.40" lengthAdjust="spacingAndGlyphs">Percent PE discharges</text>
<text x="152.3" y="430.3" font-size="14.2" stroke="#111" stroke-width="0.4" textLength="18.70" lengthAdjust="spacingAndGlyphs">Year</text>
<line x1="322.9" y1="249.3" x2="322.9" y2="377.07" stroke="#000" stroke-width="1.75"/>
<line x1="318.30" y1="376.2" x2="508.8" y2="376.2" stroke="#000" stroke-width="1.75"/>
<g transform="translate(296.11,380.67) scale(1.14,1)"><text x="0.00" y="0" font-size="10.8">0</text><use href="#pct" stroke-width="64.8" transform="translate(6.00,0) scale(0.01080)"/></g>
<line x1="318.30" y1="351.44" x2="322.9" y2="351.44" stroke="#000" stroke-width="1.75"/>
<g transform="translate(289.26,355.91) scale(1.14,1)"><text x="0.00 6.00" y="0" font-size="10.8">20</text><use href="#pct" stroke-width="64.8" transform="translate(12.01,0) scale(0.01080)"/></g>
<line x1="318.30" y1="326.68" x2="322.9" y2="326.68" stroke="#000" stroke-width="1.75"/>
<g transform="translate(289.26,331.15) scale(1.14,1)"><text x="0.00 6.00" y="0" font-size="10.8">40</text><use href="#pct" stroke-width="64.8" transform="translate(12.01,0) scale(0.01080)"/></g>
<line x1="318.30" y1="301.92" x2="322.9" y2="301.92" stroke="#000" stroke-width="1.75"/>
<g transform="translate(289.26,306.39) scale(1.14,1)"><text x="0.00 6.00" y="0" font-size="10.8">60</text><use href="#pct" stroke-width="64.8" transform="translate(12.01,0) scale(0.01080)"/></g>
<line x1="318.30" y1="277.16" x2="322.9" y2="277.16" stroke="#000" stroke-width="1.75"/>
<g transform="translate(289.26,281.63) scale(1.14,1)"><text x="0.00 6.00" y="0" font-size="10.8">80</text><use href="#pct" stroke-width="64.8" transform="translate(12.01,0) scale(0.01080)"/></g>
<line x1="318.30" y1="252.40" x2="322.9" y2="252.40" stroke="#000" stroke-width="1.75"/>
<g transform="translate(282.42,256.87) scale(1.14,1)"><text x="6.00 12.01" y="0" font-size="10.8">00</text><use href="#one" transform="translate(0.00,0) scale(0.01080)"/><use href="#pct" stroke-width="64.8" transform="translate(18.01,0) scale(0.01080)"/></g>
<line x1="331.20" y1="376.2" x2="331.20" y2="381.20" stroke="#000" stroke-width="1.75"/>
<g transform="translate(334.68,413.30) rotate(-90) scale(0.9,1)"><text x="0.00 7.19 14.38" y="0" font-size="11.4" stroke="#111" stroke-width="0.2">200</text><use href="#one" stroke="#111" stroke-width="17.5" transform="translate(21.57,0) scale(0.01140)"/></g>
<line x1="344.19" y1="376.2" x2="344.19" y2="381.20" stroke="#000" stroke-width="1.75"/>
<g transform="translate(347.67,413.30) rotate(-90) scale(0.9,1)"><text x="0.00 7.19 14.38 21.57" y="0" font-size="11.4" stroke="#111" stroke-width="0.2">2002</text></g>
<line x1="357.18" y1="376.2" x2="357.18" y2="381.20" stroke="#000" stroke-width="1.75"/>
<g transform="translate(360.66,413.30) rotate(-90) scale(0.9,1)"><text x="0.00 7.19 14.38 21.57" y="0" font-size="11.4" stroke="#111" stroke-width="0.2">2003</text></g>
<line x1="370.17" y1="376.2" x2="370.17" y2="381.20" stroke="#000" stroke-width="1.75"/>
<g transform="translate(373.65,413.30) rotate(-90) scale(0.9,1)"><text x="0.00 7.19 14.38 21.57" y="0" font-size="11.4" stroke="#111" stroke-width="0.2">2004</text></g>
<line x1="383.16" y1="376.2" x2="383.16" y2="381.20" stroke="#000" stroke-width="1.75"/>
<g transform="translate(386.64,413.30) rotate(-90) scale(0.9,1)"><text x="0.00 7.19 14.38 21.57" y="0" font-size="11.4" stroke="#111" stroke-width="0.2">2005</text></g>
<line x1="396.15" y1="376.2" x2="396.15" y2="381.20" stroke="#000" stroke-width="1.75"/>
<g transform="translate(399.63,413.30) rotate(-90) scale(0.9,1)"><text x="0.00 7.19 14.38 21.57" y="0" font-size="11.4" stroke="#111" stroke-width="0.2">2006</text></g>
<line x1="409.14" y1="376.2" x2="409.14" y2="381.20" stroke="#000" stroke-width="1.75"/>
<g transform="translate(412.62,413.30) rotate(-90) scale(0.9,1)"><text x="0.00 7.19 14.38 21.57" y="0" font-size="11.4" stroke="#111" stroke-width="0.2">2007</text></g>
<line x1="422.13" y1="376.2" x2="422.13" y2="381.20" stroke="#000" stroke-width="1.75"/>
<g transform="translate(425.61,413.30) rotate(-90) scale(0.9,1)"><text x="0.00 7.19 14.38 21.57" y="0" font-size="11.4" stroke="#111" stroke-width="0.2">2008</text></g>
<line x1="435.12" y1="376.2" x2="435.12" y2="381.20" stroke="#000" stroke-width="1.75"/>
<g transform="translate(438.60,413.30) rotate(-90) scale(0.9,1)"><text x="0.00 7.19 14.38 21.57" y="0" font-size="11.4" stroke="#111" stroke-width="0.2">2009</text></g>
<line x1="448.11" y1="376.2" x2="448.11" y2="381.20" stroke="#000" stroke-width="1.75"/>
<g transform="translate(451.59,413.30) rotate(-90) scale(0.9,1)"><text x="0.00 7.19 21.57" y="0" font-size="11.4" stroke="#111" stroke-width="0.2">200</text><use href="#one" stroke="#111" stroke-width="17.5" transform="translate(14.38,0) scale(0.01140)"/></g>
<line x1="461.10" y1="376.2" x2="461.10" y2="381.20" stroke="#000" stroke-width="1.75"/>
<g transform="translate(464.58,413.30) rotate(-90) scale(0.9,1)"><text x="0.00 7.19" y="0" font-size="11.4" stroke="#111" stroke-width="0.2">20</text><use href="#one" stroke="#111" stroke-width="17.5" transform="translate(14.38,0) scale(0.01140)"/><use href="#one" stroke="#111" stroke-width="17.5" transform="translate(21.57,0) scale(0.01140)"/></g>
<line x1="474.09" y1="376.2" x2="474.09" y2="381.20" stroke="#000" stroke-width="1.75"/>
<g transform="translate(477.57,413.30) rotate(-90) scale(0.9,1)"><text x="0.00 7.19 21.57" y="0" font-size="11.4" stroke="#111" stroke-width="0.2">202</text><use href="#one" stroke="#111" stroke-width="17.5" transform="translate(14.38,0) scale(0.01140)"/></g>
<line x1="487.08" y1="376.2" x2="487.08" y2="381.20" stroke="#000" stroke-width="1.75"/>
<g transform="translate(490.56,413.30) rotate(-90) scale(0.9,1)"><text x="0.00 7.19 21.57" y="0" font-size="11.4" stroke="#111" stroke-width="0.2">203</text><use href="#one" stroke="#111" stroke-width="17.5" transform="translate(14.38,0) scale(0.01140)"/></g>
<line x1="500.07" y1="376.2" x2="500.07" y2="381.20" stroke="#000" stroke-width="1.75"/>
<g transform="translate(503.55,413.30) rotate(-90) scale(0.9,1)"><text x="0.00 7.19 21.57" y="0" font-size="11.4" stroke="#111" stroke-width="0.2">204</text><use href="#one" stroke="#111" stroke-width="17.5" transform="translate(14.38,0) scale(0.01140)"/></g>
<line x1="331.20" y1="322.7" x2="331.20" y2="346.4" stroke="#000" stroke-width="1.45"/>
<line x1="328.70" y1="322.7" x2="333.70" y2="322.7" stroke="#000" stroke-width="1.45"/>
<line x1="328.70" y1="346.4" x2="333.70" y2="346.4" stroke="#000" stroke-width="1.45"/>
<circle cx="331.20" cy="335.1" r="2.6" fill="#990f3c"/>
<line x1="344.19" y1="320.9" x2="344.19" y2="345.3" stroke="#000" stroke-width="1.45"/>
<line x1="341.69" y1="320.9" x2="346.69" y2="320.9" stroke="#000" stroke-width="1.45"/>
<line x1="341.69" y1="345.3" x2="346.69" y2="345.3" stroke="#000" stroke-width="1.45"/>
<circle cx="344.19" cy="333.9" r="2.6" fill="#990f3c"/>
<line x1="357.18" y1="332.9" x2="357.18" y2="349.1" stroke="#000" stroke-width="1.45"/>
<line x1="354.68" y1="332.9" x2="359.68" y2="332.9" stroke="#000" stroke-width="1.45"/>
<line x1="354.68" y1="349.1" x2="359.68" y2="349.1" stroke="#000" stroke-width="1.45"/>
<circle cx="357.18" cy="341.6" r="2.6" fill="#990f3c"/>
<line x1="370.17" y1="334.2" x2="370.17" y2="349.8" stroke="#000" stroke-width="1.45"/>
<line x1="367.67" y1="334.2" x2="372.67" y2="334.2" stroke="#000" stroke-width="1.45"/>
<line x1="367.67" y1="349.8" x2="372.67" y2="349.8" stroke="#000" stroke-width="1.45"/>
<circle cx="370.17" cy="342.7" r="2.6" fill="#990f3c"/>
<line x1="383.16" y1="338.2" x2="383.16" y2="352.2" stroke="#000" stroke-width="1.45"/>
<line x1="380.66" y1="338.2" x2="385.66" y2="338.2" stroke="#000" stroke-width="1.45"/>
<line x1="380.66" y1="352.2" x2="385.66" y2="352.2" stroke="#000" stroke-width="1.45"/>
<circle cx="383.16" cy="345.8" r="2.6" fill="#990f3c"/>
<line x1="396.15" y1="336.8" x2="396.15" y2="349" stroke="#000" stroke-width="1.45"/>
<line x1="393.65" y1="336.8" x2="398.65" y2="336.8" stroke="#000" stroke-width="1.45"/>
<line x1="393.65" y1="349" x2="398.65" y2="349" stroke="#000" stroke-width="1.45"/>
<circle cx="396.15" cy="342.8" r="2.6" fill="#990f3c"/>
<line x1="409.14" y1="344.5" x2="409.14" y2="355" stroke="#000" stroke-width="1.45"/>
<line x1="406.64" y1="344.5" x2="411.64" y2="344.5" stroke="#000" stroke-width="1.45"/>
<line x1="406.64" y1="355" x2="411.64" y2="355" stroke="#000" stroke-width="1.45"/>
<circle cx="409.14" cy="350.5" r="2.6" fill="#990f3c"/>
<line x1="422.13" y1="343.5" x2="422.13" y2="354" stroke="#000" stroke-width="1.45"/>
<line x1="419.63" y1="343.5" x2="424.63" y2="343.5" stroke="#000" stroke-width="1.45"/>
<line x1="419.63" y1="354" x2="424.63" y2="354" stroke="#000" stroke-width="1.45"/>
<circle cx="422.13" cy="349" r="2.6" fill="#990f3c"/>
<line x1="435.12" y1="348.8" x2="435.12" y2="358.8" stroke="#000" stroke-width="1.45"/>
<line x1="432.62" y1="348.8" x2="437.62" y2="348.8" stroke="#000" stroke-width="1.45"/>
<line x1="432.62" y1="358.8" x2="437.62" y2="358.8" stroke="#000" stroke-width="1.45"/>
<circle cx="435.12" cy="353.8" r="2.6" fill="#990f3c"/>
<line x1="448.11" y1="350.8" x2="448.11" y2="359.5" stroke="#000" stroke-width="1.45"/>
<line x1="445.61" y1="350.8" x2="450.61" y2="350.8" stroke="#000" stroke-width="1.45"/>
<line x1="445.61" y1="359.5" x2="450.61" y2="359.5" stroke="#000" stroke-width="1.45"/>
<circle cx="448.11" cy="355.3" r="2.6" fill="#990f3c"/>
<line x1="461.10" y1="346.8" x2="461.10" y2="356" stroke="#000" stroke-width="1.45"/>
<line x1="458.60" y1="346.8" x2="463.60" y2="346.8" stroke="#000" stroke-width="1.45"/>
<line x1="458.60" y1="356" x2="463.60" y2="356" stroke="#000" stroke-width="1.45"/>
<circle cx="461.10" cy="351.8" r="2.6" fill="#990f3c"/>
<line x1="474.09" y1="354.5" x2="474.09" y2="363.3" stroke="#000" stroke-width="1.45"/>
<line x1="471.59" y1="354.5" x2="476.59" y2="354.5" stroke="#000" stroke-width="1.45"/>
<line x1="471.59" y1="363.3" x2="476.59" y2="363.3" stroke="#000" stroke-width="1.45"/>
<circle cx="474.09" cy="358.9" r="2.6" fill="#990f3c"/>
<line x1="487.08" y1="354.5" x2="487.08" y2="362.2" stroke="#000" stroke-width="1.45"/>
<line x1="484.58" y1="354.5" x2="489.58" y2="354.5" stroke="#000" stroke-width="1.45"/>
<line x1="484.58" y1="362.2" x2="489.58" y2="362.2" stroke="#000" stroke-width="1.45"/>
<circle cx="487.08" cy="358.8" r="2.6" fill="#990f3c"/>
<line x1="500.07" y1="361" x2="500.07" y2="367" stroke="#000" stroke-width="1.45"/>
<line x1="497.57" y1="361" x2="502.57" y2="361" stroke="#000" stroke-width="1.45"/>
<line x1="497.57" y1="367" x2="502.57" y2="367" stroke="#000" stroke-width="1.45"/>
<circle cx="500.07" cy="364" r="2.6" fill="#990f3c"/>
<text x="390.8" y="237.4" font-size="11.8" font-weight="bold" stroke="#111" stroke-width="0.35" textLength="46.70" lengthAdjust="spacingAndGlyphs">Warafin</text>
<text x="460.30" y="334.1" font-size="10.8">p</text>
<path d="M473.30 326.40 L466.90 330.20 L473.30 333.70" fill="none" stroke="#111" stroke-width="1.1"/>
<g transform="translate(474.60,334.1)"><text x="0.00 6.00 9.01 15.01" y="0" font-size="10.8">0.00</text><use href="#one" transform="translate(21.02,0) scale(0.01080)"/></g>
<text transform="translate(274.9,360.9) rotate(-90)" font-size="14" stroke="#111" stroke-width="0.45" textLength="97.40" lengthAdjust="spacingAndGlyphs">Percent PE discharges</text>
<text x="407.0" y="430.0" font-size="14.2" stroke="#111" stroke-width="0.4" textLength="18.60" lengthAdjust="spacingAndGlyphs">Year</text>
</svg></div></body></html>
